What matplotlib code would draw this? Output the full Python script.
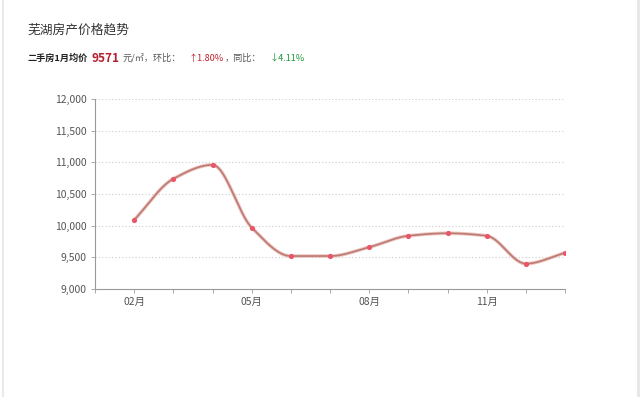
import numpy as np
import matplotlib
matplotlib.use("Agg")
import matplotlib.pyplot as plt
from matplotlib.ticker import FuncFormatter

plt.rcParams['font.family'] = ['Noto Sans CJK SC', 'DejaVu Sans']

# data
months = ['02月', '03月', '04月', '05月', '06月', '07月', '08月', '09月', '10月', '11月', '12月', '01月']
prices = [10090, 10740, 10960, 9970, 9520, 9520, 9660, 9840, 9880, 9840, 9400, 9571]
shown_labels = ['02月', '05月', '08月', '11月']
y_ticks = [9000, 9500, 10000, 10500, 11000, 11500, 12000]

# summary line pieces: text, size, colour, bold, gap before (px)
summary = [
    ('二手房1月均价', 6.6, '#222222', 'bold', 0),
    ('9571', 8.5, '#b5202e', 'bold', 4),
    ('元/㎡，环比：', 6.6, '#555555', 'normal', 3),
    ('↑1.80%', 6.6, '#c0242e', 'normal', 8),
    ('，同比：', 6.6, '#555555', 'normal', 1),
    ('↓4.11%', 6.6, '#1f9a3a', 'normal', 8),
]


def pchip(x, y, xs):
    # monotone cubic used only to draw the smoothed line between the points
    x = np.asarray(x, float)
    y = np.asarray(y, float)
    h = np.diff(x)
    d = np.diff(y) / h
    m = np.zeros_like(y)
    for i in range(1, len(y) - 1):
        if d[i - 1] * d[i] > 0:
            w1 = 2 * h[i] + h[i - 1]
            w2 = h[i] + 2 * h[i - 1]
            m[i] = (w1 + w2) / (w1 / d[i - 1] + w2 / d[i])
    m[0] = d[0]
    m[-1] = d[-1]
    out = np.empty_like(xs)
    for j, xv in enumerate(xs):
        i = min(np.searchsorted(x, xv, side='right') - 1, len(x) - 2)
        t = (xv - x[i]) / h[i]
        h00 = 2 * t**3 - 3 * t**2 + 1
        h10 = t**3 - 2 * t**2 + t
        h01 = -2 * t**3 + 3 * t**2
        h11 = t**3 - t**2
        out[j] = h00 * y[i] + h10 * h[i] * m[i] + h01 * y[i + 1] + h11 * h[i] * m[i + 1]
    return out


fig = plt.figure(figsize=(6.4, 3.97), dpi=100)

# light frame around the card
fig.add_artist(plt.Line2D([2.5 / 640, 2.5 / 640], [0, 1], color='#e6e6e6', lw=1.2))
fig.add_artist(plt.Line2D([637.5 / 640, 637.5 / 640], [0, 1], color='#e6e6e6', lw=2))

ax = fig.add_axes([95 / 640, 108 / 397, 470 / 640, 190 / 397])

xs = np.arange(len(prices))
xf = np.linspace(0, len(prices) - 1, 600)
yf = pchip(xs, prices, xf)
ax.plot(xf, yf, color='#eab9b5', lw=2.6, alpha=0.8, zorder=2, solid_capstyle='round')
ax.plot(xf, yf, color='#bb7a72', lw=1.2, zorder=3)
ax.scatter(xs, prices, s=14, color='#ea5668', zorder=4, linewidths=0)

ax.set_xlim(-1, len(prices) - 1)
ax.set_ylim(9000, 12000)
ax.set_yticks(y_ticks)
ax.yaxis.set_major_formatter(FuncFormatter(lambda v, p: f'{int(v):,}'))
ax.set_xticks(np.arange(-1, len(prices)))
ax.set_xticklabels([''] + [m if m in shown_labels else '' for m in months])

ax.grid(axis='y', color='#cccccc', linestyle=(0, (1, 2)), lw=0.8)
ax.set_axisbelow(True)
for s in ['top', 'right']:
    ax.spines[s].set_visible(False)
for s in ['left', 'bottom']:
    ax.spines[s].set_color('#999999')
    ax.spines[s].set_linewidth(0.8)
ax.tick_params(axis='both', colors='#aaaaaa', length=3, width=0.7, labelsize=7.5, labelcolor='#555555')
ax.tick_params(axis='y', pad=3)
ax.tick_params(axis='x', pad=3)

# title and summary line
fig.text(27 / 640, 1 - 30 / 397, '芜湖房产价格趋势', fontsize=9.2, color='#333333', va='center')

renderer = fig.canvas.get_renderer()
x_px = 27
yy = 1 - 58 / 397
for txt, size, col, weight, gap in summary:
    x_px += gap
    t = fig.text(x_px / 640, yy, txt, fontsize=size, color=col, va='center', fontweight=weight)
    x_px += t.get_window_extent(renderer).width

fig.savefig('out.png', dpi=100)
